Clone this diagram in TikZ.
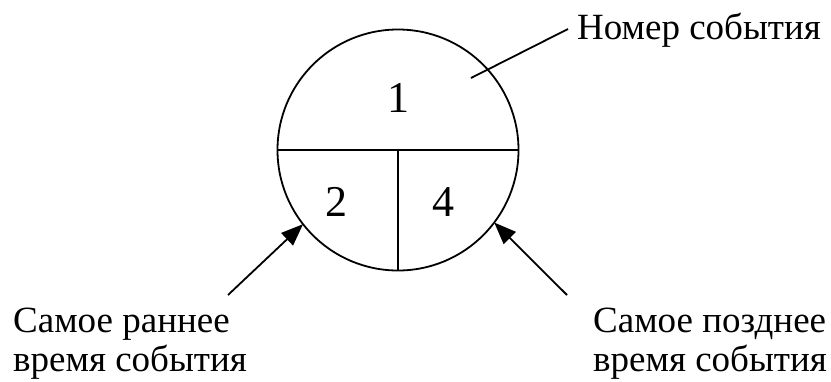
\documentclass[tikz,border=0pt]{standalone}
\usepackage{fontspec}
\setmainfont{Liberation Serif}
\usetikzlibrary{arrows.meta}
\begin{document}
\begin{tikzpicture}[x=1pt,y=-1pt,
  lbl/.style={inner sep=0pt,anchor=base west,font=\fontsize{37}{39}\selectfont},
  digit/.style={inner sep=0pt,font=\fontsize{44}{46}\selectfont},
  ln/.style={line width=1.8pt},
  arr/.style={ln,-{Triangle[length=22pt,width=17pt]}}]
\useasboundingbox (0,0) rectangle (831,381);
\node[circle,draw,line width=1.8pt,minimum size=241pt,inner sep=0pt,outer sep=0pt] (c) at (398,150) {};
\draw[ln] (c.west) -- (c.east);
\draw[ln] (c.center) -- (c.south);
\node[digit] (n1) at (398,98) {1};
\node[digit] (n2) at (336,202) {2};
\node[digit] (n4) at (443,202) {4};
\node[lbl] (top) at (577,39) {Номер события};
\coordinate (t1) at (568,29);
\coordinate (t2) at (471,78);
\draw[ln] (t1) -- (t2);
\node[lbl] (l1) at (13,332) {Самое раннее};
\node[lbl] (l2) at (13,371) {время события};
\node[lbl] (r1) at (593,332) {Самое позднее};
\node[lbl] (r2) at (593,371) {время события};
\coordinate (a1) at (228,295);
\coordinate (a2) at (567,295);
\draw[arr] (a1) -- (c.218.7);
\draw[arr] (a2) -- (c.323);
\end{tikzpicture}
\end{document}
